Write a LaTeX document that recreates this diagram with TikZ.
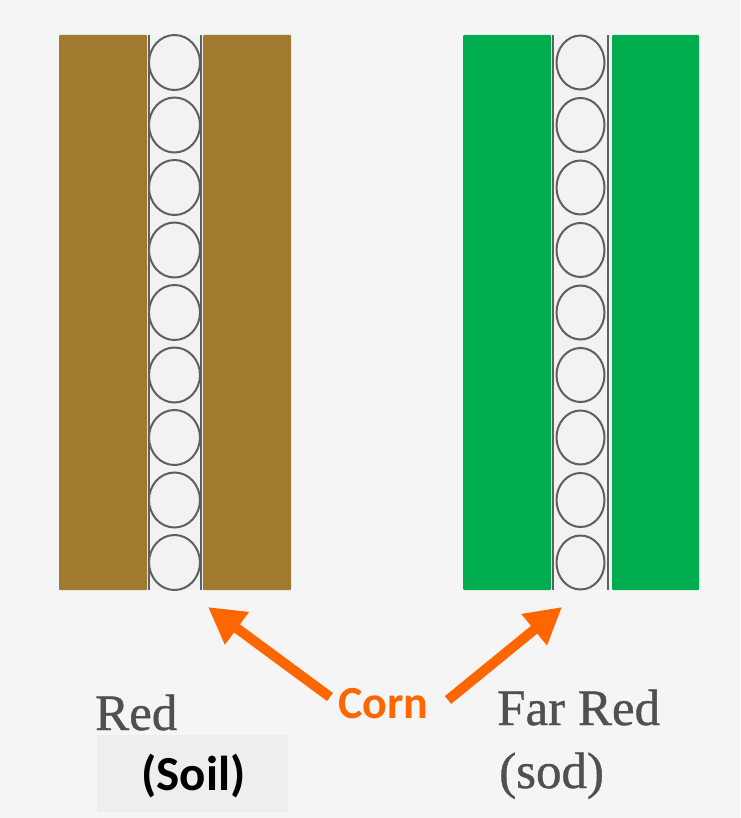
\documentclass[tikz,border=0pt]{standalone}
\usepackage{fontspec}
\setmainfont{Liberation Serif}
\newfontfamily\oldserif[FakeBold=0.8]{Liberation Serif}
\newfontfamily\calib{Carlito}
\usetikzlibrary{arrows.meta}
\definecolor{bgc}{RGB}{245,245,245}
\definecolor{chan}{RGB}{242,242,242}
\definecolor{soilbox}{RGB}{238,238,238}
\definecolor{brownc}{RGB}{160,122,46}
\definecolor{greenc}{RGB}{0,173,78}
\definecolor{orangec}{RGB}{255,102,0}
\definecolor{txtgray}{RGB}{80,80,80}
\definecolor{linegray}{RGB}{95,95,95}
\tikzset{
  strip/.style={draw=none, rounded corners=1pt},
  seed/.style={draw=linegray, line width=2pt},
  edgeline/.style={draw=linegray, line width=2pt},
  serif/.style={inner sep=0pt, anchor=base west, text=txtgray, font=\oldserif\fontsize{51}{51}\selectfont},
  boldsans/.style={inner sep=0pt, anchor=base west, font=\calib\bfseries\fontsize{46}{46}\selectfont},
  bigarrow/.style={draw=orangec, line width=10pt, -{Triangle[length=36pt,width=38pt]}}
}
\begin{document}
\begin{tikzpicture}[x=1pt,y=-1pt]
\useasboundingbox (0,0) rectangle (740,818);
\fill[bgc] (0,0) rectangle (740,818);

% left (Red / soil) panel
\fill[chan] (147,35) rectangle (203,590);
\foreach \k in {0,...,8} {
  \draw[seed] (174.5,{62.5+62.5*\k}) ellipse [x radius=25.5, y radius=27.5];
}
\draw[edgeline] (148.5,35) -- (148.5,590);
\draw[edgeline] (201,35) -- (201,590);
\fill[brownc, strip] (59,35) rectangle (147,590);
\fill[brownc, strip] (203,35) rectangle (291,590);

% right (Far Red / sod) panel
\fill[chan] (551,35) rectangle (612,590);
\foreach \k in {0,...,8} {
  \draw[seed] (580.5,{62.5+62.5*\k}) ellipse [x radius=24, y radius=27];
}
\draw[edgeline] (553,35) -- (553,590);
\draw[edgeline] (607.5,35) -- (607.5,590);
\fill[greenc, strip] (463,35) rectangle (551,590);
\fill[greenc, strip] (612,35) rectangle (699,590);

% labels
\node[serif] (red) at (95,730) {Red};
\fill[soilbox] (97,735) rectangle (288,812);
\node[boldsans, font=\calib\bfseries\fontsize{49}{49}\selectfont] (soil) at (141,790) {(Soil)};
\node[serif] (farred) at (497,725) {Far Red};
\node[serif] (sod) at (499,788) {(sod)};
\node[boldsans, text=orangec] (corn) at (338,718) {Corn};

% arrows
\coordinate (ltail) at (330,697);
\coordinate (ltip) at (208,607);
\coordinate (rtail) at (448,700);
\coordinate (rtip) at (562,607);
\draw[bigarrow] (ltail) -- (ltip);
\draw[bigarrow] (rtail) -- (rtip);
\end{tikzpicture}
\end{document}
